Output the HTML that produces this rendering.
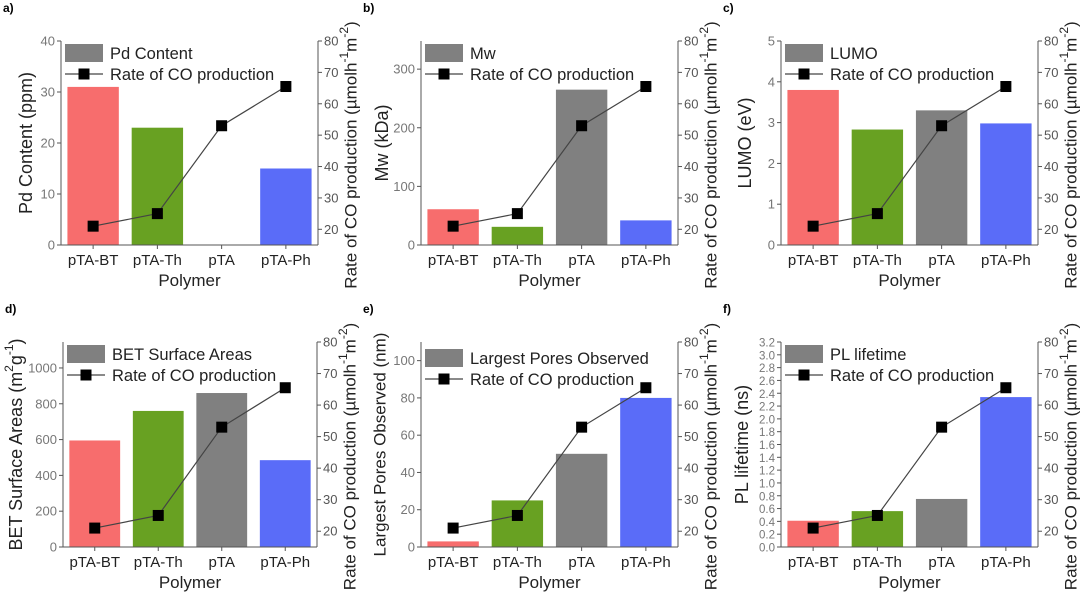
<!DOCTYPE html>
<html><head><meta charset="utf-8"><style>
body{margin:0;background:#fff;}
svg{display:block;font-family:"Liberation Sans",sans-serif;}
</style></head><body>
<svg id="c" width="1080" height="594" viewBox="0 0 1080 594"></svg>
<script>
const categories=["pTA-BT","pTA-Th","pTA","pTA-Ph"];
const rateValues=[21,25,53,65.5];
const pdValues=[31,23,0,15];
const mwValues=[61,31,265,42];
const lumoValues=[3.8,2.83,3.3,2.98];
const betValues=[595,760,860,485];
const poreValues=[3,25,50,80];
const plValues=[0.41,0.56,0.75,2.34];
const rateTicks=[20,30,40,50,60,70,80];
const colors=["#f76d6d","#68a122","#808080","#5a6cf8"];
const panels=[
 {id:"a",name:"pd-content",vals:pdValues,L:61,R:318,T:41,B:245,max:40,ticks:[0,10,20,30,40],dec:0,legend:"Pd Content",title:"Pd Content (ppm)",lx:27},
 {id:"b",name:"mw",vals:mwValues,L:421,R:678,T:41,B:245,max:348,ticks:[0,100,200,300],dec:0,legend:"Mw",title:"Mw (kDa)",lx:383},
 {id:"c",name:"lumo",vals:lumoValues,L:781,R:1038,T:41,B:245,max:5,ticks:[0,1,2,3,4,5],dec:0,legend:"LUMO",title:"LUMO (eV)",lx:746},
 {id:"d",name:"bet",vals:betValues,L:63,R:317,T:342,B:547,max:1145,ticks:[0,200,400,600,800,1000],dec:0,legend:"BET Surface Areas",title:"BET",lx:17},
 {id:"e",name:"pores",vals:poreValues,L:421,R:678,T:342,B:547,max:110,ticks:[0,20,40,60,80,100],dec:0,legend:"Largest Pores Observed",title:"Largest Pores Observed (nm)",lx:381},
 {id:"f",name:"pl-lifetime",vals:plValues,L:781,R:1038,T:342,B:547,max:3.2,ticks:[0,0.2,0.4,0.6,0.8,1.0,1.2,1.4,1.6,1.8,2.0,2.2,2.4,2.6,2.8,3.0,3.2],dec:1,legend:"PL lifetime",title:"PL lifetime (ns)",lx:743}
];
const svg=document.getElementById('c');
const NS="http://www.w3.org/2000/svg";
function mk(tag,attrs,parent,text){const e=document.createElementNS(NS,tag);for(const k in attrs)e.setAttribute(k,attrs[k]);if(text!==undefined)e.textContent=text;(parent||svg).appendChild(e);return e;}
panels.forEach(p=>{
 const g=mk('g',{});
 
 
 const y=v=>p.B-(v/p.max)*(p.B-p.T);
 const yr=v=>p.B-((v-15)/65)*(p.B-p.T);
 const bw=(p.R-p.L)/4;
 const xc=i=>p.L+bw*(i+0.5);
 const lab=mk('text',{x:p.L-58<0?3:p.L-58,y:p.T-29,'font-size':12,'font-weight':'bold'},g,p.id+')');
 
 
 p.vals.forEach((v,i)=>{
  const r=mk('rect',{x:xc(i)-bw*0.4,y:y(v),width:bw*0.8,height:p.B-y(v),fill:colors[i]},g);
  
  
 });
 mk('line',{x1:p.L,y1:p.T,x2:p.L,y2:p.B,stroke:'#555','stroke-width':1},g);
 mk('line',{x1:p.R,y1:p.T,x2:p.R,y2:p.B,stroke:'#555','stroke-width':1},g);
 mk('line',{x1:p.L,y1:p.B,x2:p.R,y2:p.B,stroke:'#555','stroke-width':1},g);
 p.ticks.forEach(t=>{
  mk('line',{x1:p.L-4,y1:y(t),x2:p.L,y2:y(t),stroke:'#555'},g);
  const tl=mk('text',{x:p.L-6,y:y(t)+4.5,'font-size':p.dec?11.5:13,fill:'#777','text-anchor':'end'},g,p.dec?t.toFixed(1):String(t));
  
  
 });
 rateTicks.forEach(t=>{
  mk('line',{x1:p.R,y1:yr(t),x2:p.R+4,y2:yr(t),stroke:'#555'},g);
  const tl=mk('text',{x:p.R+6,y:yr(t)+4.5,'font-size':13,fill:'#555'},g,String(t));
  
  
 });
 categories.forEach((c,i)=>{
  mk('line',{x1:xc(i),y1:p.B,x2:xc(i),y2:p.B+4,stroke:'#555'},g);
  const tl=mk('text',{x:xc(i),y:p.B+20,'font-size':15,'text-anchor':'middle',fill:'#222'},g,c);
  
  
 });
 const xt=mk('text',{x:(p.L+p.R)/2,y:p.B+41,'font-size':17,'text-anchor':'middle',fill:'#222'},g,'Polymer');
 
 
 const cy=(p.T+p.B)/2;
 const lt=mk('text',{x:p.lx,y:cy,'font-size':p.id==='e'?17:18,'text-anchor':'middle',fill:'#222',transform:`rotate(-90 ${p.lx} ${cy})`,'dominant-baseline':'middle'},g);
 
 
 if(p.title==="BET"){
  lt.appendChild(document.createTextNode('BET Surface Areas (m'));
  mk('tspan',{'baseline-shift':'super','font-size':12},lt,'2');
  lt.appendChild(document.createTextNode('g'));
  mk('tspan',{'baseline-shift':'super','font-size':12},lt,'-1');
  lt.appendChild(document.createTextNode(')'));
 } else lt.textContent=p.title;
 const rx=p.R+34;
 const rt=mk('text',{x:rx,y:cy+12,'font-size':17,'text-anchor':'middle',fill:'#222',transform:`rotate(-90 ${rx} ${cy+12})`,'dominant-baseline':'middle'},g);
 
 
 rt.appendChild(document.createTextNode('Rate of CO production (µmolh'));
 mk('tspan',{'baseline-shift':'super','font-size':12},rt,'-1');
 rt.appendChild(document.createTextNode('m'));
 mk('tspan',{'baseline-shift':'super','font-size':12},rt,'-2');
 rt.appendChild(document.createTextNode(')'));
 const pts=rateValues.map((v,i)=>xc(i)+','+yr(v)).join(' ');
 const pl=mk('polyline',{points:pts,fill:'none',stroke:'#444','stroke-width':1.2},g);
 
 
 rateValues.forEach((v,i)=>{
  const m=mk('rect',{x:xc(i)-5.5,y:yr(v)-5.5,width:11,height:11,fill:'#000'},g);
  
  
 });
 const lg=mk('g',{},g);
 
 
 const ly=p.T+(p.id==='e'?7:3);
 mk('rect',{x:p.L+4,y:ly,width:38,height:18,fill:'#808080'},lg);
 mk('text',{x:p.L+49,y:ly+15,'font-size':16.5,fill:'#222'},lg,p.legend);
 mk('line',{x1:p.L+4,y1:ly+30,x2:p.L+42,y2:ly+30,stroke:'#444','stroke-width':1.2},lg);
 mk('rect',{x:p.L+17.5,y:ly+24.5,width:11,height:11,fill:'#000'},lg);
 mk('text',{x:p.L+49,y:ly+36,'font-size':16.5,fill:'#222'},lg,'Rate of CO production');
});
</script>
</body></html>
